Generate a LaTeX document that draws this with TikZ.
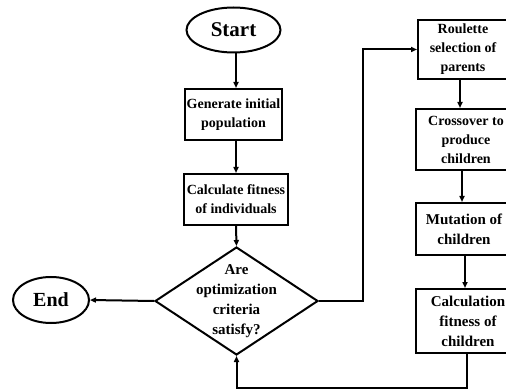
\documentclass[tikz,border=0pt]{standalone}
\usepackage{fontspec}
\setmainfont{Liberation Serif}
\usetikzlibrary{shapes.geometric,arrows.meta}
\begin{document}
\begin{tikzpicture}[x=1pt,y=-1pt,
  every node/.style={font=\bfseries},
  ln/.style={line width=2pt,draw=black},
  arr/.style={line width=2pt,-{Triangle[length=6pt,width=5pt]}},
  term/.style={ellipse,ln,inner sep=0pt},
  proc/.style={rectangle,ln,inner sep=0pt,align=center,font=\bfseries\fontsize{14}{19}\selectfont},
  procb/.style={proc,font=\bfseries\fontsize{15}{20}\selectfont}]
\useasboundingbox (0,0) rectangle (506,390);
\clip (0,0) rectangle (506,390);
\fill[white] (0,0) rectangle (506,390);
% left column
\node[term,minimum width=94pt,minimum height=45pt,font=\bfseries\fontsize{21}{24}\selectfont] (start) at (233.5,30) {Start};
\node[proc,minimum width=97pt,minimum height=51pt] (gen) at (233.5,114.5) {Generate initial\\population};
\node[proc,minimum width=104pt,minimum height=51pt] (calc) at (236,199.5) {Calculate fitness\\of individuals};
\node[diamond,ln,minimum width=163pt,minimum height=108pt,inner sep=0pt] (dec) at (236.5,301) {};
\node[align=center,font=\bfseries\fontsize{15}{20}\selectfont] (dectext) at (dec.center) {Are\\optimization\\criteria\\satisfy?};
\node[term,minimum width=76pt,minimum height=46pt,font=\bfseries\fontsize{20}{24}\selectfont] (end) at (51,300) {End};
% right column
\node[proc,minimum width=90pt,minimum height=59pt] (rou) at (463,49.5) {Roulette\\selection of\\parents};
\node[proc,minimum width=100pt,minimum height=61pt] (cro) at (466,139.5) {Crossover to\\produce\\children};
\node[procb,minimum width=96pt,minimum height=52pt] (mut) at (464,229) {Mutation of\\children};
\node[procb,minimum width=104pt,minimum height=64pt] (cal) at (468,321) {Calculation\\fitness of\\children};
% helper coordinates
\coordinate (ax) at (236,0);
\coordinate (lx) at (363,0);
\coordinate (c1) at (460,0);
\coordinate (c2) at (462,0);
\coordinate (c3) at (465,0);
\coordinate (c4) at (467,0);
\coordinate (by) at (0,388);
% connectors
\draw[arr] (start.south -| ax) -- (gen.north -| ax);
\draw[arr] (gen.south -| ax) -- (calc.north -| ax);
\draw[arr] (calc.south -| ax) -- (dec.north);
\draw[arr] (dec.west) -- (end.east);
\draw[arr] (dec.east) -- (dec.east -| lx) -- (rou.west -| lx) -- (rou.west);
\draw[arr] (rou.south -| c1) -- (cro.north -| c1);
\draw[arr] (cro.south -| c2) -- (mut.north -| c2);
\draw[arr] (mut.south -| c3) -- (cal.north -| c3);
\draw[arr] (cal.south -| c4) -- (c4 |- by) -- (dec.south |- by) -- (dec.south);
\end{tikzpicture}
\end{document}
